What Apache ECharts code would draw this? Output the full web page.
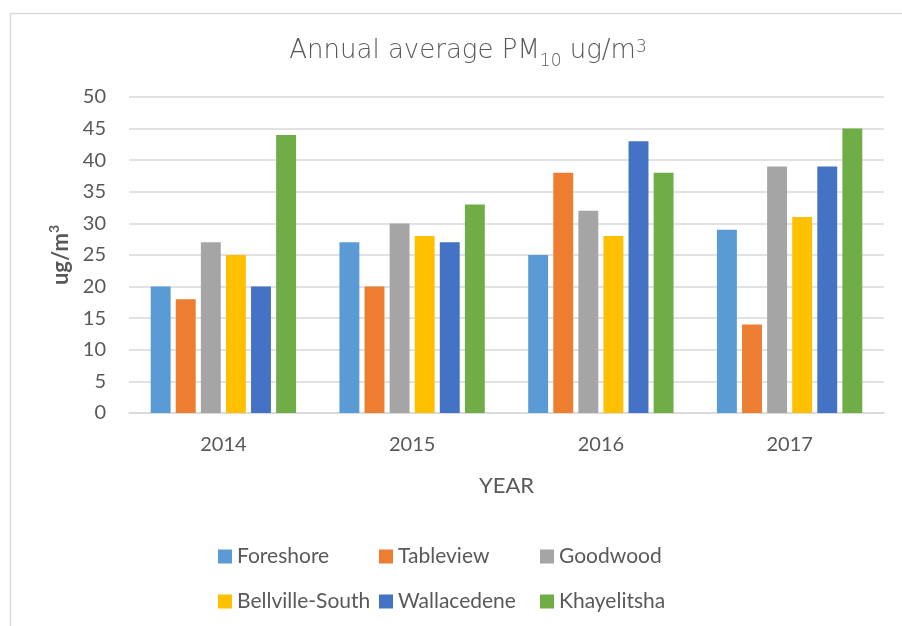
<!DOCTYPE html>
<html>
<head>
<meta charset="utf-8">
<script src="https://cdn.jsdelivr.net/npm/echarts@6/dist/echarts.min.js"></script>
<style>
  html, body { margin: 0; padding: 0; background: #fff; }
  #main { width: 902px; height: 626px; }
</style>
</head>
<body>
<div id="main"></div>
<script>
// data
const years = ["2014", "2015", "2016", "2017"];
const foreshore = [20, 27, 25, 29];
const tableview = [18, 20, 38, 14];
const goodwood = [27, 30, 32, 39];
const bellvilleSouth = [25, 28, 28, 31];
const wallacedene = [20, 27, 43, 39];
const khayelitsha = [44, 33, 38, 45];
const stationNames = ["Foreshore", "Tableview", "Goodwood", "Bellville-South", "Wallacedene", "Khayelitsha"];
const stationValues = [foreshore, tableview, goodwood, bellvilleSouth, wallacedene, khayelitsha];
const colors = ["#5B9BD5", "#ED7D31", "#A5A5A5", "#FFC000", "#4472C4", "#70AD47"];

const font = "Lato, 'Open Sans', sans-serif";
const titleFont = "'DejaVu Sans', sans-serif";
const textColor = "#595959";

// legend placed as 2 rows x 3 columns, like the original
const legendCols = [218, 379, 540];
const legendRows = [546, 591];
const legends = stationNames.map((name, i) => ({
  data: [name],
  left: legendCols[i % 3],
  top: legendRows[Math.floor(i / 3)],
  padding: 0,
  itemWidth: 14,
  itemHeight: 14,
  itemGap: 0,
  selectedMode: false,
  icon: "rect",
  textStyle: { color: textColor, fontSize: 21, fontFamily: font }
}));

const myChart = echarts.init(document.getElementById("main"));
const option = {
  backgroundColor: "#fff",
  animation: false,
  color: colors,
  title: {
    text: "{a|Annual average PM}{s|10}{a| ug/m}{p|3}",
    left: 463,
    textAlign: "center",
    top: 30,
    textStyle: {
      rich: {
        a: { fontSize: 26, fontWeight: 200, color: textColor, fontFamily: titleFont, lineHeight: 32 },
        s: { fontSize: 17, fontWeight: 200, color: textColor, fontFamily: titleFont, verticalAlign: "bottom", padding: [0, 0, -3, 0] },
        p: { fontSize: 17, fontWeight: 200, color: textColor, fontFamily: titleFont, verticalAlign: "top", padding: [4, 0, 0, 0] }
      }
    }
  },
  legend: legends,
  grid: { left: 129, right: 18, top: 97, bottom: 213 },
  xAxis: {
    type: "category",
    data: years,
    name: "YEAR",
    nameLocation: "middle",
    nameGap: 62,
    nameTextStyle: { color: textColor, fontSize: 22, fontFamily: font },
    axisLine: { lineStyle: { color: "#D9D9D9", width: 1.5 } },
    axisTick: { show: false },
    axisLabel: { color: textColor, fontSize: 20, fontFamily: font, margin: 22 }
  },
  yAxis: {
    type: "value",
    min: 0,
    max: 50,
    interval: 5,
    name: "{b|ug/m}{p|3}",
    nameLocation: "middle",
    nameRotate: 90,
    nameGap: 50,
    nameTextStyle: {
      rich: {
        b: { fontSize: 22, fontWeight: "bold", color: textColor, fontFamily: font, lineHeight: 26 },
        p: { fontSize: 14, fontWeight: "bold", color: textColor, fontFamily: font, verticalAlign: "top", padding: [0, 0, 0, 0] }
      }
    },
    axisLine: { show: false },
    axisTick: { show: false },
    axisLabel: { color: textColor, fontSize: 20, fontFamily: font, margin: 23 },
    splitLine: { lineStyle: { color: "#D9D9D9", width: 1.5 } }
  },
  series: stationNames.map((name, i) => ({
    name: name,
    type: "bar",
    data: stationValues[i],
    barGap: "26%",
    barCategoryGap: "23%"
  })),
  graphic: [
    {
      type: "rect",
      left: 8,
      top: 11,
      shape: { width: 900, height: 620 },
      style: { fill: "none", stroke: "#D9D9D9", lineWidth: 1.5 },
      silent: true
    }
  ]
};
myChart.setOption(option);
</script>
</body>
</html>
